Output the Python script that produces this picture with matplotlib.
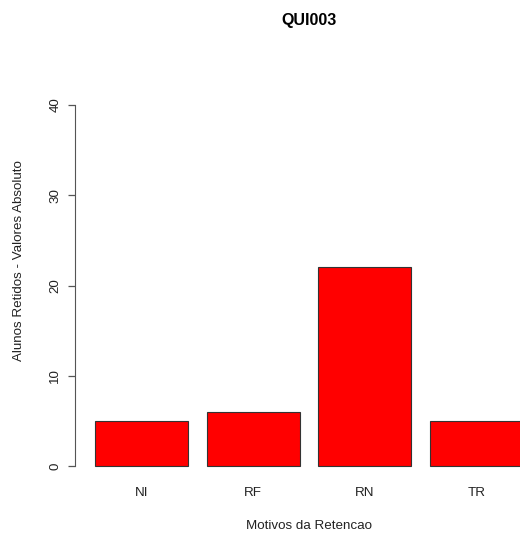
import numpy as np
import matplotlib
matplotlib.use('Agg')
import matplotlib.pyplot as plt

# Data
motivos = ['NI', 'RF', 'RN', 'TR']
alunos_retidos = [5, 6, 22, 5]
y_ticks = [0, 10, 20, 30, 40]

plt.rcParams['font.family'] = ['Liberation Sans', 'DejaVu Sans']

fig = plt.figure(figsize=(5.2, 5.33), dpi=100)
# R-style plot region (extends past right edge, as in the original)
ax = fig.add_axes([0.1498, 0.0987, 0.8885, 0.7313])

# R barplot layout: width 1, space 0.2
x_left = 0.2 + 1.2 * np.arange(len(motivos))
x_mid = x_left + 0.5
ax.bar(x_mid, alunos_retidos, width=1.0, color='#ff0000',
       edgecolor='#333333', linewidth=0.8)

ax.set_xlim(0.016, 4.984)
ax.set_ylim(-1.6, 41.6)

for s in ['top', 'right', 'bottom']:
    ax.spines[s].set_visible(False)
ax.spines['left'].set_bounds(0, 40)
ax.spines['left'].set_position(('outward', 2))
ax.spines['left'].set_color('#555555')

fs = 9.6
ax.set_yticks(y_ticks)
ax.set_yticklabels([str(v) for v in y_ticks], rotation=90, va='center')
ax.tick_params(axis='y', length=5, width=0.9, color='#555555',
               labelsize=fs, pad=5, labelcolor='#222222')
ax.set_xticks(x_mid)
ax.set_xticklabels(motivos)
ax.tick_params(axis='x', length=0, labelsize=fs, pad=5, labelcolor='#222222')

fig.text(0.594, 7 / 533, 'Motivos da Retencao', ha='center', va='center',
         fontsize=fs, color='#222222')
fig.text(19 / 520, 1 - 261 / 533, 'Alunos Retidos - Valores Absoluto', rotation=90,
         ha='center', va='center', fontsize=fs, color='#222222')
fig.text(0.594, 1 - 20 / 533, 'QUI003', ha='center', va='center',
         fontsize=11.5, fontweight='bold')

fig.savefig('out.png', dpi=100)
